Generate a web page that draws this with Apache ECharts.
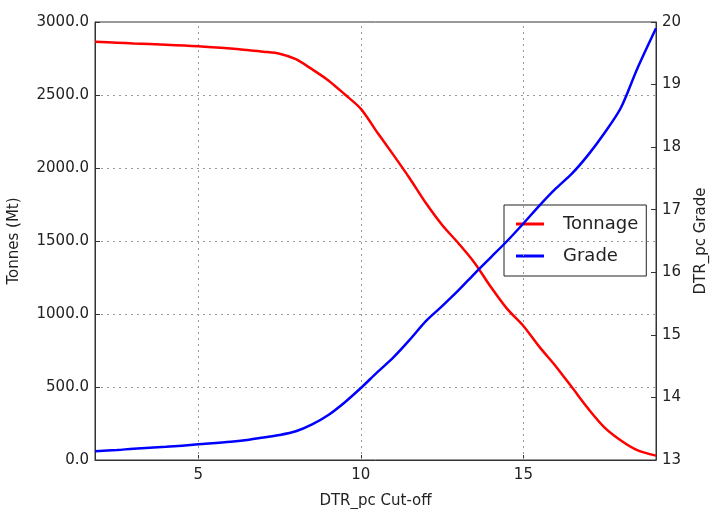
<!DOCTYPE html>
<html>
<head>
<meta charset="utf-8">
<script src="https://cdn.jsdelivr.net/npm/echarts@6/dist/echarts.min.js"></script>
<style>html,body{margin:0;padding:0;background:#fff}#c{width:715px;height:509px}</style>
</head>
<body>
<div id="c"></div>
<script>
var cutoff = [1.82, 2.5, 3, 4, 5, 6, 6.5, 7, 7.5, 8, 8.5, 9, 9.5, 10, 10.5, 11, 11.5, 12, 12.5, 13, 13.5, 14, 14.5, 15, 15.5, 16, 16.5, 17, 17.5, 18, 18.5, 19.08];
var tonnage = [2865, 2858, 2853, 2845, 2834, 2818, 2808, 2797, 2783, 2745, 2676, 2600, 2505, 2405, 2245, 2090, 1930, 1760, 1610, 1485, 1350, 1185, 1035, 918, 773, 641, 496, 350, 222, 134, 68, 30];
var grade = [13.14, 13.16, 13.18, 13.21, 13.25, 13.29, 13.32, 13.36, 13.40, 13.46, 13.57, 13.72, 13.92, 14.15, 14.40, 14.64, 14.92, 15.22, 15.46, 15.71, 15.98, 16.24, 16.50, 16.78, 17.07, 17.34, 17.58, 17.88, 18.23, 18.63, 19.25, 19.90];
var xTicks = [5, 10, 15];
var seriesNames = ['Tonnage', 'Grade'];

function pairs(xs, ys) { return xs.map(function (x, i) { return [x, ys[i]]; }); }

var font = 'DejaVu Sans';
var chart = echarts.init(document.getElementById('c'));
chart.setOption({
  animation: false,
  textStyle: { fontFamily: font, color: '#222' },
  grid: { left: 95, right: 59, top: 22, bottom: 49, outerBoundsMode: 'none', containLabel: false, show: true, borderColor: '#333', borderWidth: 1, backgroundColor: 'transparent' },
  legend: {
    data: seriesNames,
    z: 1,
    orient: 'vertical',
    left: 504, top: 205,
    padding: [10, 8, 11, 12],
    itemGap: 14,
    itemWidth: 28, itemHeight: 3,
    icon: 'rect',
    backgroundColor: 'transparent',
    borderColor: '#222', borderWidth: 1, borderRadius: 0,
    textStyle: { fontFamily: font, fontSize: 18, color: '#222', padding: [0, 0, 0, 14], width: 78 }
  },
  xAxis: {
    type: 'value', min: 1.82, max: 19.08,
    name: 'DTR_pc Cut-off', nameLocation: 'middle', nameGap: 34,
    nameTextStyle: { fontFamily: font, fontSize: 15, color: '#222' },
    axisLine: { show: true, lineStyle: { color: '#333' } },
    axisTick: { show: true, inside: true, length: 5, customValues: xTicks, lineStyle: { color: '#333' } },
    axisLabel: { customValues: xTicks, fontFamily: font, fontSize: 15, color: '#222', margin: 8 },
    splitLine: { show: false }
  },
  yAxis: [{
    type: 'value', min: 0, max: 3000, interval: 500, position: 'left',
    name: 'Tonnes (Mt)', nameLocation: 'middle', nameGap: 73, nameRotate: 90,
    nameTextStyle: { fontFamily: font, fontSize: 15, color: '#222' },
    axisLine: { show: true, lineStyle: { color: '#333' } },
    axisTick: { show: true, inside: true, length: 5, lineStyle: { color: '#333' } },
    axisLabel: { formatter: function (v) { return v.toFixed(1); }, fontFamily: font, fontSize: 15, color: '#222', margin: 6 },
    splitLine: { show: true, lineStyle: { color: '#999', type: [2, 4], width: 1 } }
  }, {
    type: 'value', min: 13, max: 20, interval: 1, position: 'right',
    name: 'DTR_pc Grade', nameLocation: 'middle', nameGap: 38, nameRotate: 90,
    nameTextStyle: { fontFamily: font, fontSize: 15, color: '#222' },
    axisLine: { show: true, lineStyle: { color: '#333' } },
    axisTick: { show: true, inside: true, length: 5, lineStyle: { color: '#333' } },
    axisLabel: { fontFamily: font, fontSize: 15, color: '#222', margin: 6 },
    splitLine: { show: false }
  }],
  series: [{
    name: 'xgrid', type: 'line', yAxisIndex: 0, data: [], z: 0, silent: true,
    markLine: {
      silent: true, symbol: 'none', label: { show: false },
      lineStyle: { color: '#999', type: [2, 4], width: 1 },
      data: xTicks.map(function (v) { return { xAxis: v }; })
    }
  }, {
    name: seriesNames[0], type: 'line', yAxisIndex: 0, data: pairs(cutoff, tonnage), z: 5,
    symbol: 'none', smooth: 0.3, lineStyle: { color: '#ff0000', width: 2.5 }, itemStyle: { color: '#ff0000' }
  }, {
    name: seriesNames[1], type: 'line', yAxisIndex: 1, data: pairs(cutoff, grade), z: 5,
    symbol: 'none', smooth: 0.3, lineStyle: { color: '#0000ff', width: 2.5 }, itemStyle: { color: '#0000ff' }
  }]
});
</script>
</body>
</html>
